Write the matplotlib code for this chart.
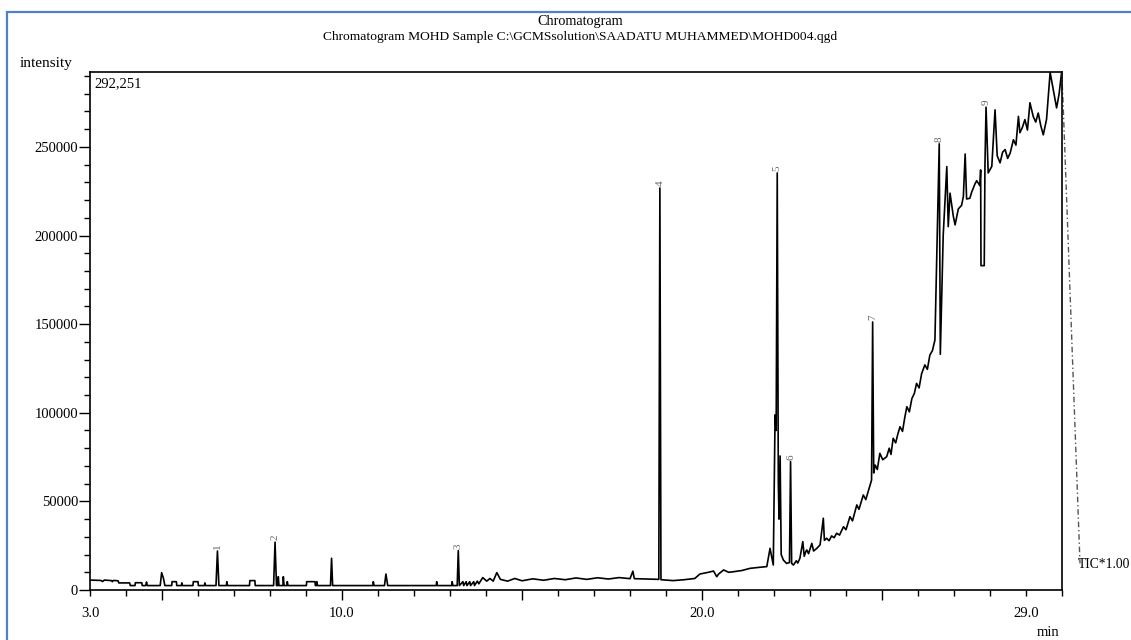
import matplotlib
matplotlib.use("Agg")
import matplotlib.pyplot as plt
from matplotlib.patches import Rectangle
from matplotlib.ticker import MultipleLocator

# retention time (min) and TIC intensity
rt = [3.00, 3.30, 3.35, 3.40, 3.60, 3.62, 3.65, 3.78, 3.80, 4.10, 4.12, 4.25, 4.26, 4.44, 4.45,
      4.55, 4.57, 4.59, 4.95, 4.99, 5.04, 5.08, 5.27, 5.28, 5.40, 5.41, 5.54, 5.55, 5.57, 5.86,
      5.87, 6.00, 6.01, 6.18, 6.19, 6.21, 6.50, 6.54, 6.58, 6.79, 6.80, 6.82, 7.43, 7.44, 7.58,
      7.59, 8.10, 8.14, 8.18, 8.22, 8.23, 8.25, 8.36, 8.37, 8.39, 8.47, 8.48, 8.50, 9.01, 9.02,
      9.25, 9.26, 9.29, 9.30, 9.32, 9.68, 9.71, 9.74, 10.86, 10.87, 10.89, 11.18, 11.22, 11.27,
      12.62, 12.63, 12.65, 13.05, 13.06, 13.08, 13.20, 13.23, 13.26, 13.36, 13.38, 13.45, 13.47,
      13.55, 13.57, 13.66, 13.68, 13.76, 13.80, 13.91, 14.02, 14.11, 14.20, 14.30, 14.40, 14.60,
      14.80, 15.00, 15.30, 15.60, 15.90, 16.20, 16.50, 16.80, 17.10, 17.40, 17.70, 18.00, 18.08,
      18.12, 18.50, 18.80, 18.83, 18.86, 19.20, 19.50, 19.80, 19.94, 20.18, 20.32, 20.41, 20.46,
      20.60, 20.74, 20.87, 21.11, 21.33, 21.55, 21.80, 21.89, 21.98, 22.03, 22.06, 22.09, 22.12,
      22.14, 22.17, 22.20, 22.26, 22.35, 22.43, 22.46, 22.49, 22.54, 22.62, 22.66, 22.72, 22.80,
      22.84, 22.88, 22.91, 22.96, 23.05, 23.10, 23.19, 23.28, 23.37, 23.40, 23.46, 23.53, 23.60,
      23.67, 23.74, 23.82, 23.93, 24.00, 24.11, 24.18, 24.30, 24.36, 24.48, 24.55, 24.67, 24.71,
      24.74, 24.77, 24.81, 24.87, 24.94, 25.02, 25.13, 25.20, 25.25, 25.31, 25.38, 25.44, 25.50,
      25.57, 25.63, 25.69, 25.76, 25.83, 25.90, 25.96, 26.03, 26.10, 26.19, 26.26, 26.33, 26.40,
      26.47, 26.59, 26.62, 26.70, 26.80, 26.84, 26.89, 26.98, 27.03, 27.12, 27.21, 27.26, 27.31,
      27.35, 27.44, 27.49, 27.58, 27.63, 27.72, 27.74, 27.75, 27.84, 27.86, 27.89, 27.95, 28.05,
      28.14, 28.20, 28.28, 28.35, 28.42, 28.49, 28.56, 28.65, 28.72, 28.79, 28.83, 28.90, 28.97,
      29.04, 29.11, 29.20, 29.27, 29.34, 29.41, 29.48, 29.57, 29.67, 29.76, 29.85, 29.92, 29.99]
intensity = [5600, 5400, 4800, 5600, 5300, 4700, 5400, 5200, 4000, 4000, 2500, 2500, 4100, 4100, 2500,
             2500, 4500, 2500, 2500, 9800, 6600, 2500, 2500, 4700, 4700, 2500, 2500, 4000, 2500, 2500,
             4700, 4700, 2500, 2500, 4000, 2500, 2500, 22000, 2500, 2500, 4700, 2500, 2500, 5300, 5300,
             2500, 2500, 27000, 2500, 2500, 7500, 2500, 2500, 7500, 2500, 2500, 4700, 2500, 2500, 4700,
             4700, 2500, 2500, 4700, 2500, 2500, 17900, 2500, 2500, 4700, 2500, 2500, 9000, 2500,
             2500, 4700, 2500, 2500, 4700, 2500, 2500, 22200, 2500, 4700, 2500, 4700, 2500,
             4700, 2500, 4700, 2500, 5000, 3500, 7000, 5000, 6500, 5000, 9800, 6000, 5000,
             6500, 5200, 6300, 5500, 6500, 5800, 6800, 6000, 6900, 6200, 7000, 6400, 10600,
             6400, 6200, 6000, 226800, 5800, 5300, 5800, 6500, 9000, 10000, 10700, 7500, 9000,
             11300, 10000, 10300, 11000, 12200, 12700, 13200, 23500, 14100, 98800, 90000, 235300, 60000,
             40000, 75600, 20000, 16900, 15000, 15500, 72400, 15000, 14100, 16500, 15200, 17900, 27300,
             19000, 21500, 22600, 20500, 26300, 22000, 23500, 25500, 40500, 28000, 29200, 27800, 30500,
             29500, 32000, 31000, 35700, 34000, 41400, 39000, 48000, 45500, 53600, 51000, 59300, 62000,
             151200, 66000, 70500, 68000, 77100, 73500, 75200, 80000, 76500, 85600, 83000, 88000, 92100,
             89500, 97000, 103400, 100500, 108000, 111000, 116600, 114000, 122000, 127000, 124500, 132600, 135000,
             141000, 251700, 133000, 200000, 238900, 205000, 223900, 211000, 206000, 215000, 217000, 222000, 246000,
             220600, 221000, 224400, 229000, 230900, 228100, 237000, 183000, 183000, 240000, 272400, 235300, 239000,
             270900, 245000, 241000, 247000, 248500, 243500, 246500, 254000, 251000, 267200, 258000, 261000, 265400,
             259500, 274900, 267200, 264000, 269100, 262000, 256800, 265400, 292000, 282000, 272000, 280000, 292251]

# trace running off the right edge down to the TIC marker
tail_rt = [29.99, 30.03, 30.50]
tail_intensity = [292251, 275000, 15000]

# numbered peaks
peak_no = ["1", "2", "3", "4", "5", "6", "7", "8", "9"]
peak_rt = [6.54, 8.14, 13.23, 18.83, 22.09, 22.46, 24.74, 26.59, 27.89]
peak_height = [22000, 27000, 22200, 226800, 235300, 72400, 151200, 251700, 272400]

x_labels = {3: "3.0", 10: "10.0", 20: "20.0", 29: "29.0"}

plt.rcParams["font.family"] = ["Liberation Serif", "DejaVu Serif"]

W, H = 1131, 640
fig = plt.figure(figsize=(W / 100, H / 100), dpi=100)
ax = fig.add_axes([90 / W, 50 / H, (1062 - 90) / W, (590 - 72) / H])

ax.plot(rt, intensity, color="black", lw=1.2)
ax.plot(tail_rt, tail_intensity, color="#555555", lw=1.0,
        linestyle=(0, (4, 2, 1, 2)), clip_on=False)

for n, t, h in zip(peak_no, peak_rt, peak_height):
    ax.text(t, h + 1000, n, rotation=90, ha="center", va="bottom",
            fontsize=8, color="#666666")

ax.set_xlim(3.0, 30.0)
ax.set_ylim(0, 292251)

# x ticks: long ticks every 5 min, short every minute, labels only at a few
ax.set_xticks([5, 10, 15, 20, 25], ["", "10.0", "", "20.0", ""])
minor = list(range(3, 31))
ax.set_xticks(minor, [x_labels.get(m, "") for m in minor], minor=True)
ax.tick_params(axis="x", which="major", length=7, width=1, labelsize=10.5, pad=5)
ax.tick_params(axis="x", which="minor", length=4, width=1, labelsize=10.5, pad=8)

ax.yaxis.set_minor_locator(MultipleLocator(10000))
ax.set_yticks([0, 50000, 100000, 150000, 200000, 250000],
              ["0", "50000", "100000", "150000", "200000", "250000"])
ax.tick_params(axis="y", which="major", length=8, width=1, labelsize=10.5, pad=0.5)
ax.tick_params(axis="y", which="minor", length=4, width=1)

for s in ax.spines.values():
    s.set_linewidth(1.2)

ax.text(0.004, 0.977, "292,251", transform=ax.transAxes, ha="left", va="center", fontsize=10.5)

fig.text(580 / W, 1 - 22 / H, "Chromatogram", ha="center", va="center", fontsize=10.2)
fig.text(580 / W, 1 - 37 / H,
         "Chromatogram MOHD Sample C:\\GCMSsolution\\SAADATU MUHAMMED\\MOHD004.qgd",
         ha="center", va="center", fontsize=9.7)
fig.text(20 / W, 1 - 63 / H, "intensity", ha="left", va="center", fontsize=11)
fig.text(1048 / W, 1 - 632 / H, "min", ha="center", va="center", fontsize=10.5)
fig.text(1078 / W, 1 - 565 / H, "TIC*1.00", ha="left", va="center", fontsize=9.8)

# blue picture frame
fig.patches.append(Rectangle((7 / W, -0.1), 1.2, 1 - 12 / H + 0.1, transform=fig.transFigure,
                             fill=False, edgecolor="#4f81c7", lw=1.6))

fig.savefig("out.png", dpi=100)
